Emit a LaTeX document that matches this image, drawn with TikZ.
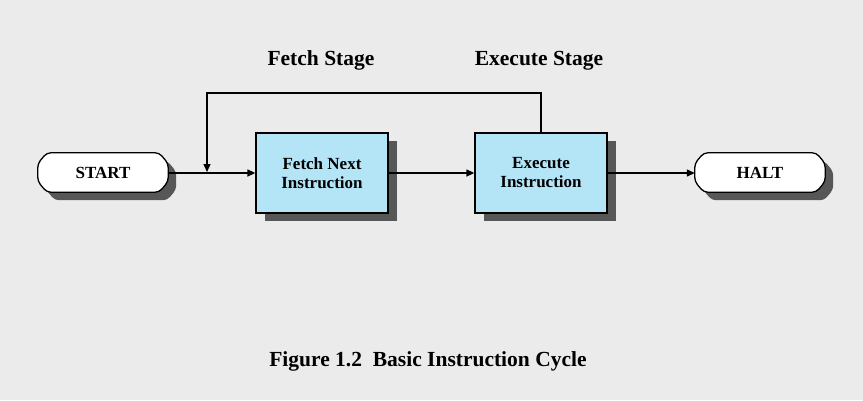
\documentclass[tikz,border=0pt]{standalone}
\usepackage{fontspec}
\setmainfont{Liberation Serif}
\usetikzlibrary{arrows.meta,calc,shadows}
\definecolor{bg}{HTML}{EBEBEB}
\definecolor{boxblue}{HTML}{B3E5F7}
\definecolor{shade}{HTML}{575757}
\pgfdeclarelayer{bottom}
\pgfdeclarelayer{background}
\pgfsetlayers{bottom,background,main}
\newcommand\termshape[1]{%
  \draw[termline]
    ($(#1.north west)+(9,0)$) -- ($(#1.north east)+(-9,0)$) --
    ($(#1.east)+(0,-9)$) -- ($(#1.east)+(0,9)$) --
    ($(#1.south east)+(-9,0)$) -- ($(#1.south west)+(9,0)$) --
    ($(#1.west)+(0,9)$) -- ($(#1.west)+(0,-9)$) -- cycle;}
\begin{document}
\begin{tikzpicture}[x=1pt,y=-1pt,
  procbox/.style={draw=black, line width=1.3pt, fill=boxblue,
    minimum width=132pt, minimum height=80pt, inner sep=0pt, align=center,
    font=\bfseries\fontsize{17}{19}\selectfont,
    drop shadow={shadow xshift=9pt, shadow yshift=-8pt, opacity=1, fill=shade}},
  termnode/.style={minimum width=130pt, minimum height=39pt, inner sep=0pt,
    font=\bfseries\fontsize{17}{19}\selectfont},
  termline/.style={line width=1.3pt, draw=black, fill=white, rounded corners=4pt,
    drop shadow={shadow xshift=8pt, shadow yshift=-8pt, opacity=1, fill=shade}},
  link/.style={line width=1.3pt, -{Triangle[length=8pt,width=7pt]}},
  stagelabel/.style={font=\bfseries\fontsize{21.5}{24}\selectfont, anchor=base},
]
\begin{pgfonlayer}{bottom}
  \fill[bg] (0,0) rectangle (863,400);
\end{pgfonlayer}
\useasboundingbox (0,0) rectangle (863,400);

\node[termnode] (start) at (103,172.5) {START};
\node[termnode] (halt) at (760,172.5) {HALT};
\begin{pgfonlayer}{background}
  \termshape{start}
  \termshape{halt}
\end{pgfonlayer}

\node[procbox] (fetch) at (322,173) {Fetch Next\\Instruction};
\node[procbox] (exec) at (541,173) {Execute\\Instruction};

\node[stagelabel] (fetchlbl) at (321,65) {Fetch Stage};
\node[stagelabel] (execlbl) at (539,65) {Execute Stage};
\node[stagelabel] (caption) at (428,366) {Figure 1.2\ \ Basic Instruction Cycle};

\coordinate (fbtop) at (207,93);
\coordinate (fbjoin) at (207,172);

\draw[link] (start.east |- fetch.west) -- (fetch.west);
\draw[link] (fetch.east) -- (exec.west);
\draw[link] (exec.east) -- (halt.west |- exec.east);
\draw[link] (exec.north) |- (fbtop) -- (fbjoin);
\end{tikzpicture}
\end{document}
